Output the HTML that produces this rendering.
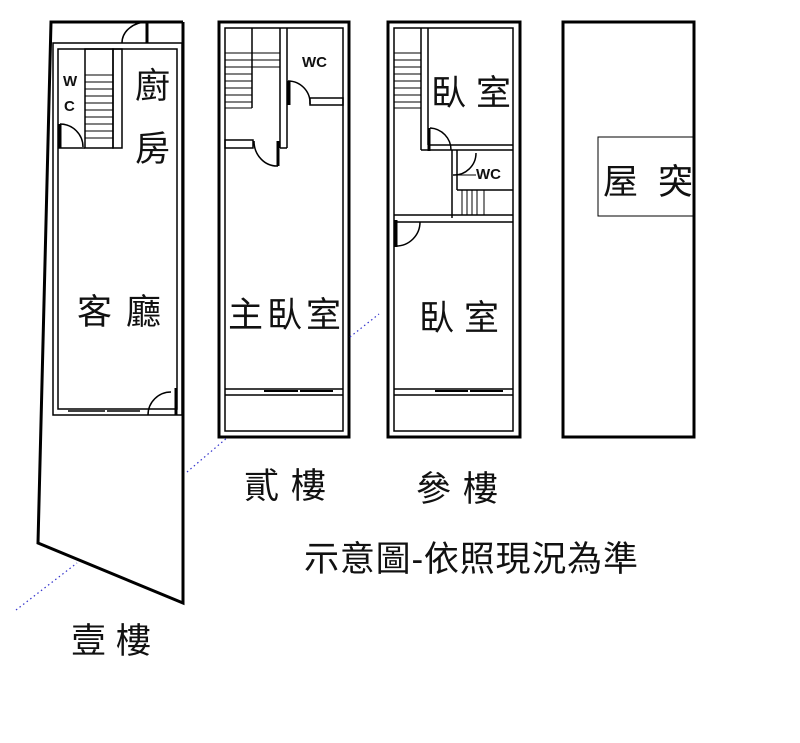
<!DOCTYPE html>
<html><head><meta charset="utf-8"><style>
html,body{margin:0;padding:0;background:#fff;width:800px;height:743px;overflow:hidden}
text{font-family:"Liberation Sans","Noto Sans CJK TC",sans-serif;fill:#111}
</style></head><body>
<svg width="800" height="743" viewBox="0 0 800 743" xmlns="http://www.w3.org/2000/svg">
<g fill="none" stroke="#000" stroke-width="1.5">
<!-- Floor 1 -->
<polyline points="183,22 51,22 38,543 183,603 183,22" stroke-width="3"/>
<rect x="53" y="43" width="129" height="372" stroke-width="1.5"/>
<rect x="58" y="49" width="119" height="360"/>
<rect x="85" y="49" width="28" height="99"/>
<rect x="113" y="49" width="9" height="99"/>
<line x1="58" y1="148" x2="85" y2="148"/>
<g stroke-width="1">
<line x1="85" y1="75" x2="113" y2="75"/><line x1="85" y1="82" x2="113" y2="82"/><line x1="85" y1="89" x2="113" y2="89"/><line x1="85" y1="96" x2="113" y2="96"/><line x1="85" y1="103" x2="113" y2="103"/><line x1="85" y1="110" x2="113" y2="110"/><line x1="85" y1="117" x2="113" y2="117"/><line x1="85" y1="124" x2="113" y2="124"/><line x1="85" y1="131" x2="113" y2="131"/><line x1="85" y1="138" x2="113" y2="138"/>
</g>
<path d="M60 124 A23 23 0 0 1 83 147" /><line x1="60" y1="124" x2="60" y2="148" stroke-width="3"/>
<path d="M122 43 A25 21 0 0 1 147 22"/><line x1="147" y1="22" x2="147" y2="43" stroke-width="3"/>
<path d="M148 415 A23 23 0 0 1 171 392"/><line x1="176" y1="388" x2="176" y2="415" stroke-width="3"/>
<line x1="68" y1="411" x2="105" y2="411"/><line x1="107" y1="411" x2="140" y2="411"/>
<!-- Floor 2 -->
<rect x="219" y="22" width="130" height="415" stroke-width="3"/>
<rect x="225" y="28" width="118" height="403"/>
<line x1="225" y1="389" x2="343" y2="389"/><line x1="225" y1="395" x2="343" y2="395"/>
<line x1="264" y1="391" x2="298" y2="391" stroke-width="2"/><line x1="300" y1="391" x2="333" y2="391" stroke-width="2"/>
<line x1="252" y1="28" x2="252" y2="108"/>
<line x1="280" y1="28" x2="280" y2="148"/><line x1="287" y1="28" x2="287" y2="148"/>
<line x1="280" y1="148" x2="287" y2="148"/>
<g stroke-width="1">
<line x1="225" y1="53" x2="280" y2="53"/><line x1="225" y1="60" x2="280" y2="60"/><line x1="225" y1="67" x2="280" y2="67"/><line x1="225" y1="74" x2="252" y2="74"/><line x1="225" y1="81" x2="252" y2="81"/><line x1="225" y1="88" x2="252" y2="88"/><line x1="225" y1="95" x2="252" y2="95"/><line x1="225" y1="102" x2="252" y2="102"/><line x1="225" y1="108" x2="252" y2="108"/>
</g>
<rect x="310" y="98" width="33" height="7"/>
<path d="M288 81 A22 22 0 0 1 310 104"/><line x1="289" y1="81" x2="289" y2="105" stroke-width="3"/>
<rect x="225" y="140" width="28" height="8"/>
<path d="M254 141 A23 25 0 0 0 278 166"/><line x1="278" y1="141" x2="278" y2="166" stroke-width="3"/>
<!-- Floor 3 -->
<rect x="388" y="22" width="132" height="415" stroke-width="3"/>
<rect x="394" y="28" width="119" height="403"/>
<line x1="394" y1="389" x2="513" y2="389"/><line x1="394" y1="395" x2="513" y2="395"/>
<line x1="435" y1="391" x2="468" y2="391" stroke-width="2"/><line x1="470" y1="391" x2="503" y2="391" stroke-width="2"/>
<g stroke-width="1">
<line x1="394" y1="53" x2="421" y2="53"/><line x1="394" y1="60" x2="421" y2="60"/><line x1="394" y1="67" x2="421" y2="67"/><line x1="394" y1="74" x2="421" y2="74"/><line x1="394" y1="81" x2="421" y2="81"/><line x1="394" y1="88" x2="421" y2="88"/><line x1="394" y1="95" x2="421" y2="95"/><line x1="394" y1="102" x2="421" y2="102"/><line x1="394" y1="108" x2="421" y2="108"/>
</g>
<line x1="421" y1="28" x2="421" y2="150"/><line x1="428" y1="28" x2="428" y2="145"/>
<line x1="428" y1="145" x2="513" y2="145"/><line x1="421" y1="150" x2="513" y2="150"/>
<path d="M430 128 A22 22 0 0 1 451 150"/><line x1="429" y1="128" x2="429" y2="151" stroke-width="3"/>
<line x1="452" y1="150" x2="452" y2="218"/><line x1="457" y1="150" x2="457" y2="190"/>
<path d="M476 153 A22 22 0 0 1 453 175"/><line x1="456" y1="175" x2="476" y2="175" stroke-width="1"/>
<line x1="457" y1="190" x2="513" y2="190"/>
<g stroke-width="1"><line x1="462" y1="190" x2="462" y2="215"/><line x1="467" y1="190" x2="467" y2="215"/><line x1="472" y1="190" x2="472" y2="215"/><line x1="477" y1="190" x2="477" y2="215"/><line x1="484" y1="190" x2="484" y2="215"/></g>
<line x1="394" y1="215" x2="513" y2="215"/><line x1="394" y1="222" x2="513" y2="222"/>
<path d="M396 246 A24 24 0 0 0 420 222"/><line x1="396" y1="220" x2="396" y2="247" stroke-width="3"/>
<!-- Floor 4 -->
<rect x="563" y="22" width="131" height="415" stroke-width="3"/>
<rect x="598" y="137" width="95" height="79" stroke-width="1"/>
<!-- dotted lines -->
<g stroke="#33c" stroke-width="1.2" stroke-dasharray="1.5,3">
<line x1="16" y1="610" x2="77" y2="563"/>
<line x1="187" y1="472" x2="228" y2="437"/>
<line x1="350" y1="337" x2="379" y2="314"/>
</g>
</g>
<g font-size="35">
<text x="135" y="98">廚</text>
<text x="135" y="161">房</text>
<text x="77" y="324" textLength="84" lengthAdjust="spacing">客 廳</text>
<text x="228" y="327" textLength="113" lengthAdjust="spacing">主臥室</text>
<text x="431" y="105" textLength="80" lengthAdjust="spacing">臥 室</text>
<text x="419" y="330" textLength="80" lengthAdjust="spacing">臥 室</text>
<text x="603" y="194" textLength="90" lengthAdjust="spacing">屋 突</text>
<text x="244" y="498" textLength="82" lengthAdjust="spacing">貳 樓</text>
<text x="416" y="501" textLength="82" lengthAdjust="spacing">參 樓</text>
<text x="71" y="653" textLength="80" lengthAdjust="spacing">壹 樓</text>
<text x="304" y="571" textLength="334" lengthAdjust="spacing">示意圖-依照現況為準</text>
</g>
<g font-size="15" font-weight="bold">
<text x="63" y="86">W</text>
<text x="64" y="111">C</text>
<text x="302" y="67">WC</text>
<text x="476" y="179">WC</text>
</g>
</svg>
</body></html>
